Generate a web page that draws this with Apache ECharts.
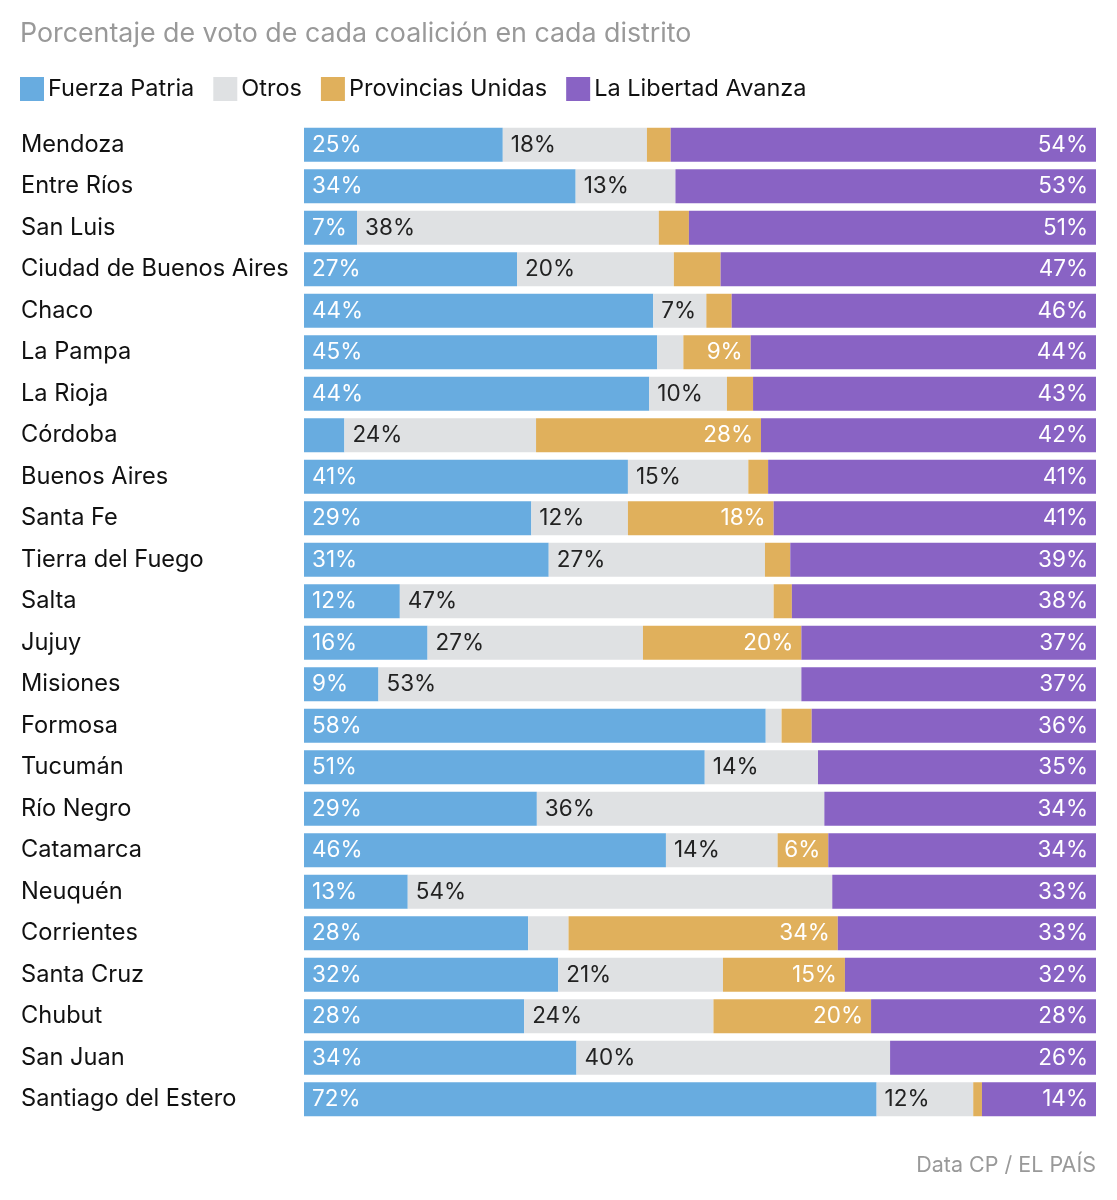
<!DOCTYPE html>
<html>
<head>
<meta charset="utf-8">
<script src="https://cdn.jsdelivr.net/npm/echarts@6/dist/echarts.min.js"></script>
<style>
  html, body { margin: 0; padding: 0; background: #fff; }
  #chart { width: 1117px; height: 1200px; }
</style>
</head>
<body>
<div id="chart"></div>
<script>
const categories = ['Mendoza', 'Entre Ríos', 'San Luis', 'Ciudad de Buenos Aires', 'Chaco', 'La Pampa', 'La Rioja', 'Córdoba', 'Buenos Aires', 'Santa Fe', 'Tierra del Fuego', 'Salta', 'Jujuy', 'Misiones', 'Formosa', 'Tucumán', 'Río Negro', 'Catamarca', 'Neuquén', 'Corrientes', 'Santa Cruz', 'Chubut', 'San Juan', 'Santiago del Estero']
const fuerzaPatria = [25.1, 34.3, 6.7, 26.9, 44.1, 44.6, 43.6, 5.1, 40.9, 28.7, 30.9, 12.1, 15.6, 9.4, 58.3, 50.6, 29.4, 45.7, 13.1, 28.3, 32.1, 27.8, 34.4, 72.3]
const otros = [18.2, 12.6, 38.1, 19.8, 6.7, 3.3, 9.8, 24.2, 15.2, 12.2, 27.3, 47.2, 27.2, 53.4, 2.0, 14.3, 36.3, 14.1, 53.6, 5.1, 20.8, 23.9, 39.6, 12.2]
const provinciasUnidas = [3.0, 0, 3.8, 5.9, 3.2, 8.5, 3.3, 28.4, 2.5, 18.4, 3.2, 2.3, 20.0, 0, 3.8, 0, 0, 6.4, 0, 34.0, 15.4, 19.9, 0, 1.1]
const libertadAvanza = [53.7, 53.1, 51.4, 47.4, 46.0, 43.6, 43.3, 42.3, 41.4, 40.7, 38.6, 38.4, 37.2, 37.2, 35.9, 35.1, 34.3, 33.8, 33.3, 32.6, 31.7, 28.4, 26.0, 14.4]

const font = 'Inter'
const chart = echarts.init(document.getElementById('chart'))

const pctLabel = (p) => (p.value >= 6 ? Math.round(p.value) + '%' : '')

const makeSeries = (name, data, color, textColor, position) => ({
  name,
  type: 'bar',
  stack: 'total',
  barWidth: 34,
  data,
  itemStyle: { color },
  label: {
    show: true,
    position,
    distance: 8,
    color: textColor,
    fontSize: 22.5,
    fontFamily: font,
    padding: [4, 0, 0, 0],
    formatter: pctLabel,
  },
})

chart.setOption({
  animation: false,
  textStyle: { fontFamily: font },
  title: [
    {
      text: 'Porcentaje de voto de cada coalición en cada distrito',
      left: 20,
      top: 20,
      padding: 0,
      textStyle: { color: '#999', fontSize: 26.8, fontWeight: 'normal', fontFamily: font },
    },
    {
      text: 'Data CP / EL PAÍS',
      right: 21,
      top: 1155,
      padding: 0,
      textStyle: { color: '#999', fontSize: 21.5, fontWeight: 'normal', fontFamily: font },
    },
  ],
  legend: {
    left: 20,
    top: 77,
    padding: 0,
    icon: 'rect',
    itemWidth: 24,
    itemHeight: 24,
    itemGap: 19,
    textStyle: { color: '#111', fontSize: 23.5, fontFamily: font, padding: [3, 0, 0, -1] },
  },
  grid: { left: 304, right: 21, top: 124, bottom: 80 },
  xAxis: { type: 'value', min: 0, max: 100, show: false },
  yAxis: {
    type: 'category',
    inverse: true,
    data: categories,
    axisLine: { show: false },
    axisTick: { show: false },
    axisLabel: { align: 'left', margin: 283, color: '#111', fontSize: 23.6, fontFamily: font, padding: [4, 0, 0, 0] },
  },
  series: [
    makeSeries('Fuerza Patria', fuerzaPatria, '#68ace0', '#fff', 'insideLeft'),
    makeSeries('Otros', otros, '#dfe1e3', '#222', 'insideLeft'),
    makeSeries('Provincias Unidas', provinciasUnidas, '#e0b05c', '#fff', 'insideRight'),
    makeSeries('La Libertad Avanza', libertadAvanza, '#8963c4', '#fff', 'insideRight'),
  ],
})
</script>
</body>
</html>
